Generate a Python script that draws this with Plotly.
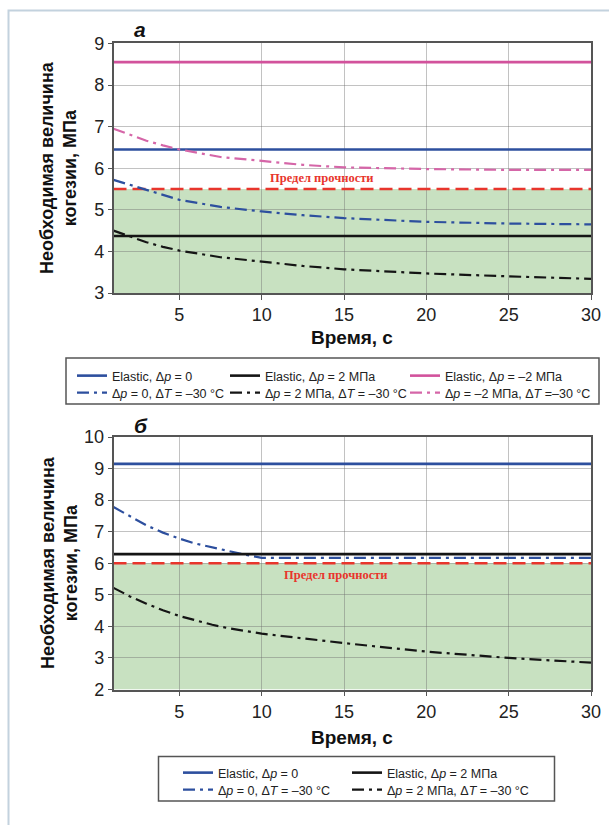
import plotly.graph_objects as go

# ---------------- data ----------------
TIME = [1, 2, 3, 4, 5, 7.5, 10, 12.5, 15, 20, 25, 30]
X_RANGE = [1, 30]
X_TICKS = [5, 10, 15, 20, 25, 30]

# panel a
A_Y_TICKS = [3, 4, 5, 6, 7, 8, 9]
A_ELASTIC_0 = 6.45
A_ELASTIC_P2 = 4.37
A_ELASTIC_M2 = 8.55
A_LIMIT = 5.5
A_DT_0 = [5.72, 5.60, 5.48, 5.35, 5.24, 5.07, 4.96, 4.87, 4.80, 4.71, 4.67, 4.65]
A_DT_P2 = [4.50, 4.36, 4.22, 4.11, 4.02, 3.86, 3.75, 3.65, 3.57, 3.47, 3.40, 3.34]
A_DT_M2 = [6.95, 6.80, 6.66, 6.55, 6.45, 6.27, 6.17, 6.08, 6.02, 5.98, 5.96, 5.96]

# panel b
TIME_B = [1, 2, 3, 4, 5, 6, 7, 8, 9, 10, 15, 20, 25, 30]
B_Y_TICKS = [2, 3, 4, 5, 6, 7, 8, 9, 10]
B_ELASTIC_0 = 9.15
B_ELASTIC_P2 = 6.29
B_LIMIT = 6.0
B_DT_0 = [7.78, 7.48, 7.20, 6.97, 6.78, 6.62, 6.50, 6.38, 6.27, 6.17, 6.17, 6.17, 6.17, 6.17]
B_DT_P2 = [5.22, 4.95, 4.72, 4.51, 4.33, 4.18, 4.05, 3.94, 3.85, 3.77, 3.47, 3.20, 3.00, 2.85]

LEG_E0 = "Elastic, Δ<i>p</i> = 0"
LEG_E2 = "Elastic, Δ<i>p</i> = 2 МПа"
LEG_EM2 = "Elastic, Δ<i>p</i> = –2 МПа"
LEG_T0 = "Δ<i>p</i> = 0, Δ<i>T</i> = –30 °C"
LEG_T2 = "Δ<i>p</i> = 2 МПа, Δ<i>T</i> = –30 °C"
LEG_TM2 = "Δ<i>p</i> = –2 МПа, Δ<i>T</i> =–30 °C"
LIMIT_TEXT = "Предел прочности"
Y_TITLE = "Необходимая величина<br>когезии, МПа"
X_TITLE = "Время, с"

# ---------------- styles ----------------
W, H = 609, 825
BLUE = "#2d4f9e"
BLACK = "#151515"
PINK = "#d2529c"
PINK_DD = "#d566a8"
RED = "#e8352c"
GREEN = "#c8e1c1"
GRID = "rgba(110,110,110,0.42)"
AXIS = "#555555"
DASHDOT = "12px,5px,3px,5px"
LIMDASH = "13px,6px"
FONT = "Liberation Sans, Arial, sans-serif"


def px(x):
    return x / W


def py(y):
    return 1 - y / H


fig = go.Figure()


def add_line(xs, ys, color, dash, name, xa, ya, legend, show=True, width=2.2):
    fig.add_trace(go.Scatter(
        x=xs, y=ys, mode="lines", name=name, xaxis=xa, yaxis=ya,
        line=dict(color=color, width=width, dash=dash),
        showlegend=show, legend=legend, hoverinfo="skip"))


# panel a
add_line(X_RANGE, [A_LIMIT, A_LIMIT], RED, LIMDASH, "limit", "x", "y", "legend", show=False, width=2.4)
add_line(X_RANGE, [A_ELASTIC_0, A_ELASTIC_0], BLUE, "solid", LEG_E0, "x", "y", "legend", width=2.6)
add_line(TIME, A_DT_0, BLUE, DASHDOT, LEG_T0, "x", "y", "legend2")
add_line(X_RANGE, [A_ELASTIC_P2, A_ELASTIC_P2], BLACK, "solid", LEG_E2, "x", "y", "legend3", width=2.6)
add_line(TIME, A_DT_P2, BLACK, DASHDOT, LEG_T2, "x", "y", "legend4")
add_line(X_RANGE, [A_ELASTIC_M2, A_ELASTIC_M2], PINK, "solid", LEG_EM2, "x", "y", "legend5", width=2.6)
add_line(TIME, A_DT_M2, PINK_DD, DASHDOT, LEG_TM2, "x", "y", "legend6")

# panel b
add_line(X_RANGE, [B_LIMIT, B_LIMIT], RED, LIMDASH, "limit", "x2", "y2", "legend", show=False, width=2.4)
add_line(X_RANGE, [B_ELASTIC_0, B_ELASTIC_0], BLUE, "solid", LEG_E0, "x2", "y2", "legend7", width=2.6)
add_line(TIME_B, B_DT_0, BLUE, DASHDOT, LEG_T0, "x2", "y2", "legend8")
add_line(X_RANGE, [B_ELASTIC_P2, B_ELASTIC_P2], BLACK, "solid", LEG_E2, "x2", "y2", "legend9", width=2.6)
add_line(TIME_B, B_DT_P2, BLACK, DASHDOT, LEG_T2, "x2", "y2", "legend10")

XDOM = [px(113.5), px(591)]
common_x = dict(range=X_RANGE, tickvals=X_TICKS, showgrid=True, gridcolor=GRID, gridwidth=1,
                showline=True, linecolor=AXIS, linewidth=1.5, mirror=True, automargin=False,
                ticks="outside", ticklen=5, tickcolor=AXIS, tickwidth=1,
                tickfont=dict(size=18, family=FONT, color="#222"), zeroline=False, domain=XDOM)
common_y = dict(showgrid=True, gridcolor=GRID, gridwidth=1, dtick=1, automargin=False,
                showline=True, linecolor=AXIS, linewidth=1.5, mirror=True,
                ticks="outside", ticklen=4, tickcolor=AXIS, tickwidth=1,
                tickfont=dict(size=18, family=FONT, color="#222"), zeroline=False)

legend_common = dict(xanchor="left", yanchor="top", orientation="v", bgcolor="rgba(0,0,0,0)",
                     borderwidth=0, font=dict(size=12.5, family=FONT, color="#222"),
                     tracegroupgap=0, itemclick=False)

# legend text left edges (px) and row centres (px)
TOP_COLS = [112, 265, 445]
TOP_ROWS = [374, 391]
BOT_COLS = [218, 387]
BOT_ROWS = [771, 788]


def leg(col, row):
    return dict(legend_common, x=px(col - 40), y=py(row - 13))


fig.update_layout(
    width=W, height=H, margin=dict(l=0, r=0, t=0, b=0, autoexpand=False),
    paper_bgcolor="white", plot_bgcolor="white",
    xaxis=dict(common_x, anchor="y"),
    yaxis=dict(common_y, range=[A_Y_TICKS[0], A_Y_TICKS[-1]], tickvals=A_Y_TICKS,
               domain=[py(293), py(43.4)], anchor="x"),
    xaxis2=dict(common_x, anchor="y2"),
    yaxis2=dict(common_y, range=[B_Y_TICKS[0], B_Y_TICKS[-1]], tickvals=B_Y_TICKS,
                domain=[py(689.5), py(437)], anchor="x2"),
    legend=leg(TOP_COLS[0], TOP_ROWS[0]),
    legend2=leg(TOP_COLS[0], TOP_ROWS[1]),
    legend3=leg(TOP_COLS[1], TOP_ROWS[0]),
    legend4=leg(TOP_COLS[1], TOP_ROWS[1]),
    legend5=leg(TOP_COLS[2], TOP_ROWS[0]),
    legend6=leg(TOP_COLS[2], TOP_ROWS[1]),
    legend7=leg(BOT_COLS[0], BOT_ROWS[0]),
    legend8=leg(BOT_COLS[0], BOT_ROWS[1]),
    legend9=leg(BOT_COLS[1], BOT_ROWS[0]),
    legend10=leg(BOT_COLS[1], BOT_ROWS[1]),
    showlegend=True,
)

shapes = [
    # outer frame
    dict(type="rect", xref="paper", yref="paper", x0=px(8.5), x1=1.05, y0=-0.05, y1=py(10.5),
         line=dict(color="#c3d2de", width=2), fillcolor="rgba(0,0,0,0)", layer="below"),
    # safe zones
    dict(type="rect", xref="x", yref="y", x0=X_RANGE[0], x1=X_RANGE[1], y0=A_Y_TICKS[0], y1=A_LIMIT,
         fillcolor=GREEN, line=dict(width=0), layer="below"),
    dict(type="rect", xref="x2", yref="y2", x0=X_RANGE[0], x1=X_RANGE[1], y0=B_Y_TICKS[0], y1=B_LIMIT,
         fillcolor=GREEN, line=dict(width=0), layer="below"),
    # legend boxes
    dict(type="rect", xref="paper", yref="paper", x0=px(66), x1=px(599), y0=py(404), y1=py(358),
         line=dict(color="#555", width=1.5), fillcolor="rgba(0,0,0,0)"),
    dict(type="rect", xref="paper", yref="paper", x0=px(158.5), x1=px(554.5), y0=py(801), y1=py(756.5),
         line=dict(color="#555", width=1.5), fillcolor="rgba(0,0,0,0)"),
]
fig.update_layout(shapes=shapes)

ann = []
for cy in (168, 563):
    ann.append(dict(text=Y_TITLE, x=px(59), y=py(cy), xref="paper", yref="paper", showarrow=False,
                    textangle=-90, font=dict(size=18, family=FONT, color="#111", weight="bold"),
                    xanchor="center", yanchor="middle"))
for cy in (337, 737):
    ann.append(dict(text=X_TITLE, x=px(352), y=py(cy), xref="paper", yref="paper", showarrow=False,
                    font=dict(size=19, family=FONT, color="#111", weight="bold"),
                    xanchor="center", yanchor="middle"))
ann.append(dict(text="<b><i>а</i></b>", x=px(140), y=py(29), xref="paper", yref="paper", showarrow=False,
                font=dict(size=21, family=FONT, color="#111"), xanchor="center", yanchor="middle"))
ann.append(dict(text="<b><i>б</i></b>", x=px(141), y=py(425), xref="paper", yref="paper", showarrow=False,
                font=dict(size=21, family=FONT, color="#111"), xanchor="center", yanchor="middle"))
ann.append(dict(text=LIMIT_TEXT, x=px(322), y=py(178), xref="paper", yref="paper", showarrow=False,
                font=dict(size=12.5, family="Liberation Serif, Times New Roman, serif", color=RED, weight="bold"),
                xanchor="center", yanchor="middle"))
ann.append(dict(text=LIMIT_TEXT, x=px(336), y=py(575), xref="paper", yref="paper", showarrow=False,
                font=dict(size=12.5, family="Liberation Serif, Times New Roman, serif", color=RED, weight="bold"),
                xanchor="center", yanchor="middle"))
fig.update_layout(annotations=ann)

fig.write_html(
    "out.html",
    config={"displayModeBar": False},
    post_script="document.body.style.margin='0px';document.body.style.overflow='hidden';",
)
